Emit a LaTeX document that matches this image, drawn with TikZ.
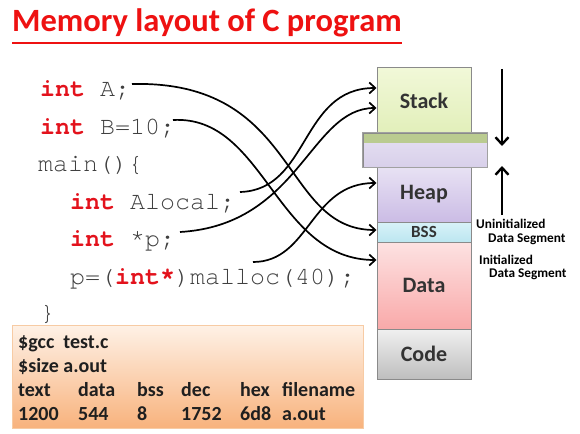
\documentclass[tikz,border=0pt]{standalone}
\usepackage{fontspec}
\setmainfont{Carlito}
\newfontfamily\codefont{TeX Gyre Cursor}
\usetikzlibrary{arrows.meta}
\definecolor{titlered}{HTML}{EE1111}
\definecolor{kwred}{HTML}{E3121C}
\definecolor{codegray}{HTML}{404040}
\definecolor{segborder}{HTML}{8A8A8A}
\definecolor{segtext}{HTML}{333333}
\definecolor{stackT}{HTML}{F1F8D8}
\definecolor{stackB}{HTML}{E2EFBA}
\definecolor{gapT}{HTML}{E6E0F2}
\definecolor{gapB}{HTML}{D8D0EA}
\definecolor{band}{HTML}{BACB90}
\definecolor{heapT}{HTML}{E8E2F4}
\definecolor{heapB}{HTML}{CBBCE5}
\definecolor{bssT}{HTML}{D8F2F8}
\definecolor{bssB}{HTML}{BCE6F0}
\definecolor{dataT}{HTML}{FDE2E2}
\definecolor{dataB}{HTML}{F9A9A9}
\definecolor{codeT}{HTML}{F0F0F0}
\definecolor{codeB}{HTML}{BEBEBE}
\definecolor{boxT}{HTML}{FEF1E6}
\definecolor{boxB}{HTML}{F8B27C}
\definecolor{boxD}{HTML}{F7CBA4}
\newcommand{\kw}[1]{\textcolor{kwred}{\bfseries #1}}
\begin{document}
\begin{tikzpicture}[x=1pt,y=-1pt,
  code/.style={anchor=base west, inner sep=0pt, font=\codefont\fontsize{25}{30}\selectfont, text=codegray},
  seg/.style={draw=segborder, line width=1pt, inner sep=0pt, minimum width=94pt, text=segtext, font=\bfseries\fontsize{22}{26}\selectfont},
  link/.style={black, line width=1.7pt, -{Straight Barb[length=6pt,width=11pt,line width=1.7pt]}},
  big/.style={black, line width=2.4pt, -{Straight Barb[length=7pt,width=13pt,line width=2.4pt]}},
  cmd/.style={anchor=base west, inner sep=0pt, font=\bfseries\fontsize{20}{24}\selectfont, text=black!88},
  side/.style={anchor=base west, inner sep=0pt, font=\bfseries\fontsize{13.3}{15}\selectfont, text=black}
]
\useasboundingbox (0,0) rectangle (580,433);
\fill[white] (0,0) rectangle (580,433);

% title
\node[anchor=base west, inner sep=0pt, text=titlered, font=\bfseries\fontsize{32.5}{38}\selectfont] (title) at (12,32) {Memory layout of C program};
\draw[titlered, line width=2.8pt] (12,43) -- (title.east |- 0,43);

% code
\node[code] (lA) at (40,97) {\kw{int} A;};
\node[code] (lB) at (40,134) {\kw{int} B=10;};
\node[code] (lM) at (38,171) {main()\{};
\node[code] (lL) at (70,209) {\kw{int} Alocal;};
\node[code] (lP) at (70,246) {\kw{int} *p;};
\node[code] (lm) at (70,284) {p=(\kw{int*})malloc(40);};
\node[code] (lE) at (40,320) {\}};

% memory column
\node[seg, top color=stackT, bottom color=stackB, minimum height=65pt] (stack) at (424,100.5) {Stack};
\node[seg, top color=heapT, bottom color=heapB, minimum height=55pt] (heap) at (424,194.5) {Heap};
\node[seg, top color=bssT, bottom color=bssB, minimum height=20pt, font=\bfseries\fontsize{17}{19}\selectfont] (bss) at (424,232) {BSS};
\node[seg, top color=dataT, bottom color=dataB, minimum height=87pt] (data) at (424,285.5) {Data};
\node[seg, top color=codeT, bottom color=codeB, minimum height=50pt] (code) at (424,354) {Code};
% gap box
\node[draw=segborder, line width=1pt, inner sep=0pt, minimum width=124pt, minimum height=34pt, top color=gapT, bottom color=gapB] (gap) at (425,150) {};
\fill[band] (363.5,133.5) rectangle (486.5,143);
\draw[segborder!80, line width=1pt] (gap.north west) rectangle (gap.south east);

% growth arrows
\coordinate (dTop) at (502,69);
\coordinate (dBot) at (502,146);
\coordinate (uBot) at (502,215);
\coordinate (uTop) at (502,166);
\draw[big] (dTop) -- (dBot);
\draw[big] (uBot) -- (uTop);

% side labels
\node[side] (un1) at (476,228) {Uninitialized};
\node[side] (un2) at (488,242) {Data Segment};
\node[side] (in1) at (479,264) {Initialized};
\node[side] (in2) at (489,277) {Data Segment};

% connectors
\coordinate (sA) at (132,84);
\coordinate (sB) at (173,120);
\coordinate (sL) at (240,192);
\coordinate (sP) at (180,232);
\coordinate (sm) at (253,262);
\draw[link] (sA) .. controls (300,80) and (280,230) .. ([yshift=2pt]bss.west);
\draw[link] (sB) .. controls (265,115) and (275,260) .. ([yshift=25.5pt]data.west);
\draw[link] (sL) .. controls (310,190) and (300,88) .. ([yshift=12.5pt]stack.west);
\draw[link] (sP) .. controls (300,225) and (310,108) .. ([yshift=-7.5pt]stack.west);
\draw[link] (sm) .. controls (310,262) and (310,183) .. ([yshift=11.5pt]heap.west);

% command box
\node[draw=boxD, line width=1pt, top color=boxT, bottom color=boxB, minimum width=351pt, minimum height=103pt, inner sep=0pt, anchor=north west] (box) at (12,325) {};
\node[cmd] (c1) at (18,348) {\$gcc\ \ test.c};
\node[cmd] (c2) at (18,372) {\$size a.out};
\node[cmd] (h1) at (18,396) {text};
\node[cmd] (h2) at (78,396) {data};
\node[cmd] (h3) at (137,396) {bss};
\node[cmd] (h4) at (181,396) {dec};
\node[cmd] (h5) at (240,396) {hex};
\node[cmd] (h6) at (282,396) {filename};
\node[cmd] (v1) at (18,420) {1200};
\node[cmd] (v2) at (78,420) {544};
\node[cmd] (v3) at (137,420) {8};
\node[cmd] (v4) at (181,420) {1752};
\node[cmd] (v5) at (240,420) {6d8};
\node[cmd] (v6) at (282,420) {a.out};
\end{tikzpicture}
\end{document}
